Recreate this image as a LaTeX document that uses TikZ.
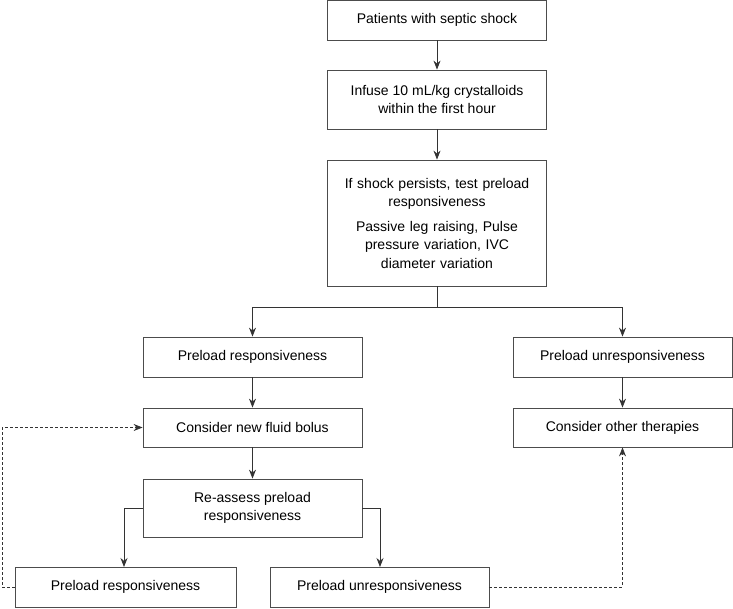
\documentclass[tikz,border=0pt]{standalone}
\usepackage{fontspec}
\setmainfont{Liberation Sans}
\usetikzlibrary{arrows.meta}
\tikzset{
  box/.style={draw=black!70, line width=0.8pt, align=center, inner sep=2pt, font=\fontsize{14}{18.5}\selectfont},
  flow/.style={draw=black!80, line width=0.8pt, -{Stealth[length=9pt,width=7pt]}},
  loop/.style={flow, dash pattern=on 3pt off 2pt}
}
\begin{document}
\begin{tikzpicture}[x=1pt, y=-1pt]
	\useasboundingbox (0,0) rectangle (733,608);
	\node[box, minimum width=219pt, minimum height=40pt] (patients) at (437,20) {Patients with septic shock};
	\node[box, minimum width=219pt, minimum height=59pt] (infuse) at (437,99.5) {Infuse 10 mL/kg crystalloids\\within the first hour};
	\node[box, minimum width=219pt, minimum height=126pt, text width=205pt] (test) at (437,223) {If shock persists, test preload\\responsiveness\\[6pt]Passive leg raising, Pulse\\pressure variation, IVC\\diameter variation};
	\node[box, minimum width=219pt, minimum height=40pt] (resp) at (252.5,357) {Preload responsiveness};
	\node[box, minimum width=219pt, minimum height=40pt] (unresp) at (622.5,357) {Preload unresponsiveness};
	\node[box, minimum width=219pt, minimum height=39pt] (bolus) at (252.5,427.5) {Consider new fluid bolus};
	\node[box, minimum width=219pt, minimum height=39pt] (other) at (622.5,427.5) {Consider other therapies};
	\node[box, minimum width=219pt, minimum height=58pt] (reassess) at (252.5,508) {Re-assess preload\\responsiveness};
	\node[box, minimum width=221pt, minimum height=40pt] (resp2) at (125.5,587) {Preload responsiveness};
	\node[box, minimum width=219pt, minimum height=40pt] (unresp2) at (379.5,587) {Preload unresponsiveness};
	\coordinate (split) at (437,307);
	% main path
	\draw[flow] (patients) -- (infuse);
	\draw[flow] (infuse) -- (test);
	\draw[flow, -] (test.south) -- (split);
	\draw[flow] (split) -| (resp.north);
	\draw[flow] (split) -| (unresp.north);
	\draw[flow] (resp) -- (bolus);
	\draw[flow] (unresp) -- (other);
	\draw[flow] (bolus) -- (reassess);
	\draw[flow] (reassess.west) -| (124,567);
	\draw[flow] (reassess.east) -| (380,567);
	% loops back
	\draw[loop] (resp2.west) -- (2,587) |- (bolus.west);
	\draw[loop] (unresp2.east) -| (other.south);
\end{tikzpicture}
\end{document}
